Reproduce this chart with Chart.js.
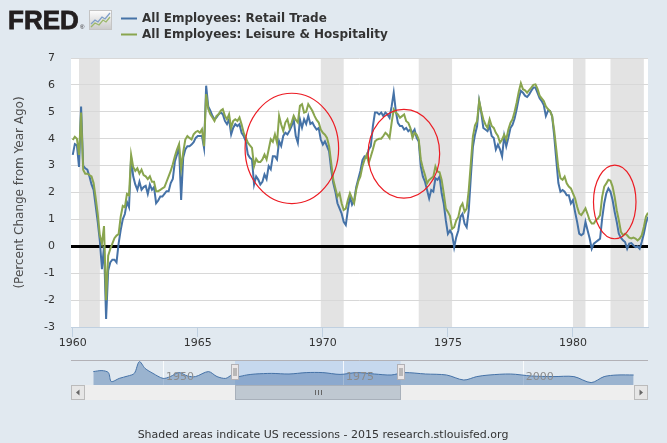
<!DOCTYPE html>
<html>
<head>
<meta charset="utf-8">
<script src="https://cdn.jsdelivr.net/npm/chart.js@4.4.1/dist/chart.umd.min.js"></script>
<style>
  html, body { margin: 0; padding: 0; background: #e1e9f0; }
  #wrap { position: relative; width: 667px; height: 443px; }
  #wrap canvas { position: absolute; left: 0; top: 0; }
</style>
</head>
<body>
<div id="wrap">
  <canvas id="fredChart" width="667" height="443"></canvas>
  <canvas id="navChart" width="667" height="443"></canvas>
</div>
<script>
// monthly values, first one is Jan 1960
const startYear = 1960;

// All Employees: Retail Trade, % change from year ago
const retail = [
  3.4, 3.8, 3.75, 2.95, 5.2, 3.0, 2.9, 2.85, 2.6, 2.3, 2.1, 1.5,          // 1960
  0.9, 0.2, -0.85, 0.0, -2.7, -0.9, -0.6, -0.5, -0.5, -0.6, 0.1, 0.6,     // 1961
  1.0, 1.2, 1.65, 1.45, 3.3, 2.6, 2.3, 2.1, 2.4, 2.1, 2.2, 2.25,          // 1962
  1.95, 2.3, 2.1, 2.2, 1.6, 1.7, 1.85, 1.85, 1.95, 2.05, 2.05, 2.35,      // 1963
  2.5, 3.15, 3.4, 3.7, 1.72, 3.3, 3.6, 3.72, 3.72, 3.78, 3.87, 4.03,      // 1964
  4.1, 4.1, 4.1, 3.66, 5.97, 5.2, 5.04, 4.85, 4.72, 4.79, 4.91, 4.97,     // 1965
  4.91, 4.66, 4.54, 4.72, 4.16, 4.41, 4.54, 4.47, 4.54, 4.22, 4.1, 3.91,  // 1966
  3.42, 3.29, 3.23, 2.3, 2.6, 2.48, 2.3, 2.4, 2.67, 2.5, 2.98, 2.86,      // 1967
  3.35, 3.35, 3.23, 3.91, 3.73, 4.1, 4.22, 4.16, 4.29, 4.47, 4.72, 4.1,   // 1968
  3.85, 4.72, 4.41, 4.72, 4.55, 4.85, 4.55, 4.6, 4.45, 4.34, 4.4, 3.97,   // 1969
  3.78, 3.9, 3.72, 3.53, 2.85, 2.35, 2.03, 1.6, 1.41, 1.22, 0.91, 0.79,   // 1970
  1.35, 1.85, 1.55, 1.7, 2.2, 2.5, 2.8, 3.2, 3.34, 3.3, 3.6, 3.72,        // 1971
  4.47, 4.97, 4.97, 4.9, 4.97, 4.84, 4.97, 4.9, 4.78, 5.2, 5.71, 5.03,    // 1972
  4.59, 4.47, 4.47, 4.34, 4.4, 4.28, 4.34, 4.22, 4.34, 4.03, 3.9, 2.97,   // 1973
  2.59, 2.4, 2.09, 1.78, 2.09, 2.03, 2.53, 2.47, 2.59, 1.97, 1.59, 0.96,  // 1974
  0.46, 0.59, 0.45, -0.04, 0.34, 0.59, 1.09, 1.21, 0.84, 0.71, 1.34, 2.59, // 1975
  3.7, 4.15, 4.47, 5.4, 4.97, 4.4, 4.34, 4.28, 4.47, 4.1, 4.03, 3.6,      // 1976
  3.78, 3.6, 3.34, 4.1, 3.72, 4.03, 4.4, 4.52, 4.75, 5.1, 5.5, 5.78,      // 1977
  5.71, 5.6, 5.55, 5.65, 5.78, 5.9, 5.9, 5.7, 5.5, 5.4, 5.25, 4.84,       // 1978
  5.03, 5.03, 4.84, 4.1, 3.2, 2.35, 2.03, 2.09, 2.03, 1.9, 1.9, 1.59,     // 1979
  1.72, 1.28, 0.91, 0.47, 0.41, 0.47, 0.91, 0.6, 0.3, -0.09, 0.1, 0.16,   // 1980
  0.22, 0.28, 1.03, 1.59, 1.97, 2.15, 2.03, 1.72, 1.28, 0.91, 0.47, 0.32, // 1981
  0.22, 0.16, -0.09, 0.1, 0.12, 0.04, -0.03, 0.0, -0.09, 0.16, 0.47, 0.85, // 1982
  1.1                                                                     // 1983
];

// All Employees: Leisure & Hospitality, % change from year ago
const leisure = [
  3.95, 4.07, 4.0, 3.4, 4.97, 2.85, 2.7, 2.7, 2.65, 2.6, 2.35, 1.8,       // 1960
  1.2, 0.4, 0.1, 0.75, -2.0, -0.35, -0.1, 0.1, 0.3, 0.4, 0.45, 1.1,       // 1961
  1.5, 1.45, 1.95, 1.9, 3.4, 2.95, 2.8, 2.9, 2.7, 2.85, 2.65, 2.6,        // 1962
  2.5, 2.6, 2.4, 2.4, 2.05, 2.05, 2.1, 2.15, 2.2, 2.4, 2.6, 2.8,          // 1963
  3.05, 3.35, 3.6, 3.8, 2.9, 3.5, 3.97, 4.1, 4.03, 3.97, 4.16, 4.25,      // 1964
  4.29, 4.22, 4.35, 3.72, 5.66, 5.1, 4.91, 4.79, 4.66, 4.85, 4.91, 5.04,  // 1965
  5.1, 4.85, 4.72, 4.91, 4.41, 4.66, 4.72, 4.66, 4.79, 4.54, 4.22, 4.05,  // 1966
  3.85, 3.75, 3.66, 2.98, 3.25, 3.13, 3.13, 3.23, 3.41, 3.23, 3.6, 3.98,  // 1967
  3.88, 4.16, 3.85, 4.85, 4.53, 4.29, 4.6, 4.72, 4.41, 4.6, 4.85, 4.7,    // 1968
  4.6, 5.22, 5.28, 4.97, 5.0, 5.28, 5.16, 5.03, 4.85, 4.7, 4.6, 4.34,     // 1969
  4.22, 4.15, 4.03, 3.72, 3.1, 2.47, 2.16, 1.85, 1.97, 1.6, 1.35, 1.4,    // 1970
  1.72, 1.97, 1.78, 1.6, 2.1, 2.41, 2.6, 2.97, 3.22, 3.4, 3.1, 3.34,      // 1971
  3.6, 3.9, 3.97, 4.0, 4.0, 4.1, 4.22, 4.15, 4.03, 4.59, 5.09, 4.97,      // 1972
  4.9, 4.78, 4.84, 4.9, 4.65, 4.59, 4.4, 4.03, 4.22, 4.15, 3.97, 3.22,    // 1973
  2.9, 2.65, 2.34, 2.47, 2.53, 2.59, 2.97, 2.78, 2.75, 2.47, 1.97, 1.4,   // 1974
  1.28, 1.12, 0.65, 0.71, 0.96, 1.09, 1.46, 1.59, 1.28, 1.4, 2.09, 3.09,  // 1975
  4.09, 4.5, 4.65, 5.4, 5.03, 4.72, 4.53, 4.4, 4.72, 4.47, 4.4, 4.22,     // 1976
  4.1, 3.85, 3.97, 4.15, 3.97, 4.34, 4.59, 4.72, 5.0, 5.35, 5.75, 6.06,   // 1977
  5.84, 5.8, 5.71, 5.81, 5.9, 6.0, 6.02, 5.85, 5.6, 5.5, 5.4, 5.2,        // 1978
  5.1, 5.03, 4.84, 4.3, 3.6, 2.9, 2.53, 2.47, 2.59, 2.34, 2.22, 2.15,     // 1979
  1.97, 1.78, 1.47, 1.22, 1.16, 1.28, 1.41, 1.2, 0.97, 0.85, 0.85, 0.97,  // 1980
  1.03, 1.16, 1.84, 2.22, 2.34, 2.47, 2.44, 2.22, 1.84, 1.34, 0.97, 0.54, // 1981
  0.41, 0.47, 0.41, 0.32, 0.29, 0.32, 0.29, 0.22, 0.29, 0.41, 0.72, 1.1,  // 1982
  1.25                                                                    // 1983
];

// NBER recessions (peak month .. trough month) as decimal years
const recessionStart = [1960.25, 1969.917, 1973.833, 1980.0, 1981.5];
const recessionEnd   = [1961.083, 1970.833, 1975.167, 1980.5, 1982.833];

const xTickYears = [1960, 1965, 1970, 1975, 1980];

// red hand-drawn highlight ellipses (centre and half sizes in data units)
const circleYear = [1968.76, 1973.24, 1981.67];
const circleValue = [3.64, 3.44, 1.65];
const circleHalfYears = [1.87, 1.43, 0.85];
const circleHalfValues = [2.05, 1.65, 1.37];

// navigator strip underneath (long-run series overview)
const navYears = [1940.3, 1941.5, 1942.4, 1942.8, 1943.9, 1945.1, 1946.0, 1946.7, 1947.5, 1948.6,
  1950.0, 1951.0, 1952.2, 1953.4, 1954.5, 1956.3, 1957.5, 1958.7, 1959.6, 1960.4,
  1961.6, 1962.8, 1965.1, 1967.5, 1969.9, 1972.2, 1974.6, 1976.9, 1979.4, 1981.7,
  1983.5, 1986.5, 1989.4, 1991.8, 1993.6, 1995.3, 1998.3, 2001.2, 2004.2, 2007.1,
  2009.5, 2011.3, 2013.1, 2015.4];
const navValues = [4.2, 4.7, 3.7, -0.8, 0.8, 2.0, 3.3, 9.2, 5.8, 3.3,
  0.8, 1.7, 3.7, 2.0, 1.7, 4.2, 1.7, 0.8, 2.5, 1.7,
  2.5, 3.0, 3.3, 3.0, 3.7, 3.7, 2.8, 3.7, 3.0, 2.5,
  3.7, 3.0, 2.5, 0.0, 1.7, 2.5, 3.0, 2.0, 1.7, 1.7,
  -1.3, 1.7, 2.5, 2.5];
const navGridYears = [1950, 1975, 2000];
const navSelection = [1960, 1983];

const BLUE = '#4572a7';
const GREEN = '#89a54e';
const FONT = '"DejaVu Sans", Verdana, sans-serif';

function toPoints(arr) {
  return arr.map((v, i) => ({ x: startYear + i / 12, y: v }));
}

const fredDecor = {
  id: 'fredDecor',
  beforeDraw(chart) {
    const { ctx, chartArea: a, scales: { x } } = chart;
    ctx.save();
    ctx.fillStyle = '#e1e9f0';
    ctx.fillRect(0, 0, chart.width, chart.height);
    ctx.fillStyle = '#ffffff';
    ctx.fillRect(a.left, a.top, a.right - a.left, a.bottom - a.top);
    ctx.fillStyle = '#e3e3e3';
    for (let i = 0; i < recessionStart.length; i++) {
      const x0 = Math.max(a.left, x.getPixelForValue(recessionStart[i]));
      const x1 = Math.min(a.right, x.getPixelForValue(recessionEnd[i]));
      ctx.fillRect(x0, a.top, x1 - x0, a.bottom - a.top);
    }
    ctx.restore();
  },
  afterDatasetsDraw(chart) {
    const { ctx, scales: { x, y } } = chart;
    ctx.save();
    ctx.strokeStyle = '#ec1c24';
    ctx.lineWidth = 1.2;
    for (let i = 0; i < circleYear.length; i++) {
      const cx = x.getPixelForValue(circleYear[i]);
      const cy = y.getPixelForValue(circleValue[i]);
      const rx = x.getPixelForValue(circleYear[i] + circleHalfYears[i]) - cx;
      const ry = cy - y.getPixelForValue(circleValue[i] + circleHalfValues[i]);
      ctx.beginPath();
      ctx.ellipse(cx, cy, rx, ry, 0, 0, Math.PI * 2);
      ctx.stroke();
    }
    ctx.restore();
  },
  afterDraw(chart) {
    const ctx = chart.ctx;
    ctx.save();
    // FRED logo
    ctx.fillStyle = '#231f20';
    ctx.font = 'bold 26px "Liberation Sans", Arial, sans-serif';
    ctx.textBaseline = 'alphabetic';
    ctx.fillText('FRED', 8, 28.5);
    ctx.strokeStyle = '#231f20';
    ctx.lineWidth = 0.8;
    ctx.strokeText('FRED', 8, 28.5);
    ctx.font = '6px "Liberation Sans", Arial, sans-serif';
    ctx.fillText('®', 80, 29);
    // little chart icon
    const g = ctx.createLinearGradient(0, 10, 0, 30);
    g.addColorStop(0, '#ffffff');
    g.addColorStop(1, '#c8c8c8');
    ctx.fillStyle = g;
    ctx.fillRect(89.5, 10.5, 22, 19);
    ctx.strokeStyle = '#c4c4c4';
    ctx.lineWidth = 1;
    ctx.strokeRect(89.5, 10.5, 22, 19);
    ctx.lineWidth = 1.3;
    ctx.strokeStyle = '#7f9fc8';
    ctx.beginPath();
    ctx.moveTo(91, 24); ctx.lineTo(95, 20); ctx.lineTo(98, 22); ctx.lineTo(102, 17); ctx.lineTo(105, 19); ctx.lineTo(110, 13);
    ctx.stroke();
    ctx.strokeStyle = '#9cb86a';
    ctx.beginPath();
    ctx.moveTo(91, 27); ctx.lineTo(95, 23); ctx.lineTo(99, 25); ctx.lineTo(103, 20); ctx.lineTo(106, 22); ctx.lineTo(110, 17);
    ctx.stroke();

    // legend
    const entries = [[BLUE, 'All Employees: Retail Trade', 18.5], [GREEN, 'All Employees: Leisure & Hospitality', 34.5]];
    ctx.font = 'bold 12px ' + FONT;
    ctx.textBaseline = 'middle';
    ctx.textAlign = 'left';
    entries.forEach(([c, t, yy]) => {
      ctx.strokeStyle = c;
      ctx.lineWidth = 2;
      ctx.beginPath();
      ctx.moveTo(121, yy); ctx.lineTo(137, yy);
      ctx.stroke();
      ctx.fillStyle = '#333333';
      ctx.fillText(t, 142, yy);
    });

    // footer
    ctx.font = '11px ' + FONT;
    ctx.fillStyle = '#333333';
    ctx.textAlign = 'center';
    ctx.fillText('Shaded areas indicate US recessions - 2015 research.stlouisfed.org', 323, 435);
    ctx.restore();
  }
};

const fredChart = new Chart(document.getElementById('fredChart'), {
  type: 'line',
  data: {
    datasets: [{
      label: 'All Employees: Leisure & Hospitality',
      data: toPoints(leisure),
      borderColor: GREEN,
      borderWidth: 2,
      pointRadius: 0,
      tension: 0,
      order: 0
    }, {
      label: 'All Employees: Retail Trade',
      data: toPoints(retail),
      borderColor: BLUE,
      borderWidth: 2,
      pointRadius: 0,
      tension: 0,
      order: 1
    }]
  },
  options: {
    responsive: false,
    animation: false,
    events: [],
    layout: { padding: { left: 0, right: 19, top: 58, bottom: 86 } },
    plugins: { legend: { display: false }, tooltip: { enabled: false } },
    scales: {
      x: {
        type: 'linear',
        min: 1959.93,
        max: 1983.0,
        afterBuildTicks: s => { s.ticks = xTickYears.map(v => ({ value: v })); },
        afterFit: s => { s.height = 30; },
        grid: { drawOnChartArea: false, drawTicks: true, tickLength: 10, color: '#c0d0e0' },
        border: { display: true, color: '#c0d0e0' },
        ticks: {
          callback: v => String(v),
          maxRotation: 0,
          padding: 0,
          color: '#333333',
          font: { family: FONT, size: 11 }
        }
      },
      y: {
        min: -3,
        max: 7,
        afterFit: s => { s.width = 71; },
        grid: {
          drawTicks: false,
          color: c => (c.tick && c.tick.value === 0) ? '#000000' : '#d8d8d8',
          lineWidth: c => (c.tick && c.tick.value === 0) ? 3 : 1
        },
        border: { display: false },
        ticks: {
          stepSize: 1,
          padding: 16,
          color: '#333333',
          font: { family: FONT, size: 11 }
        },
        title: {
          display: true,
          text: '(Percent Change from Year Ago)',
          color: '#4d4d4d',
          font: { family: FONT, size: 12 },
          padding: { top: 13, bottom: 0 }
        }
      }
    }
  },
  plugins: [fredDecor]
});

const navDecor = {
  id: 'navDecor',
  beforeDatasetsDraw(chart) {
    const { ctx, chartArea: a, scales: { x } } = chart;
    ctx.save();
    const m0 = x.getPixelForValue(navSelection[0]);
    const m1 = x.getPixelForValue(navSelection[1]);
    ctx.fillStyle = '#c6d8ee';
    ctx.fillRect(m0, a.top, m1 - m0, a.bottom - a.top);
    ctx.strokeStyle = 'rgba(255,255,255,0.8)';
    ctx.lineWidth = 1;
    navGridYears.forEach(yr => {
      const px = Math.round(x.getPixelForValue(yr)) + 0.5;
      ctx.beginPath();
      ctx.moveTo(px, a.top); ctx.lineTo(px, a.bottom);
      ctx.stroke();
    });
    ctx.restore();
  },
  afterDraw(chart) {
    const { ctx, chartArea: a, scales: { x } } = chart;
    ctx.save();
    // axis labels inside the strip
    ctx.font = '11px ' + FONT;
    ctx.fillStyle = '#8c8c8c';
    ctx.textBaseline = 'middle';
    ctx.textAlign = 'left';
    navGridYears.forEach(yr => {
      ctx.fillText(String(yr), x.getPixelForValue(yr) + 3, a.top + 17);
    });
    // outline
    ctx.strokeStyle = '#b2b1b6';
    ctx.lineWidth = 1;
    ctx.beginPath();
    ctx.moveTo(a.left, a.top + 0.5); ctx.lineTo(a.right, a.top + 0.5);
    ctx.stroke();

    const m0 = x.getPixelForValue(navSelection[0]);
    const m1 = x.getPixelForValue(navSelection[1]);
    // handles
    [m0, m1].forEach(hx => {
      const l = Math.round(hx) - 3.5;
      ctx.fillStyle = '#ebe7e8';
      ctx.fillRect(l, a.top + 4.5, 7, 15);
      ctx.strokeStyle = '#b2b1b6';
      ctx.strokeRect(l, a.top + 4.5, 7, 15);
      ctx.strokeStyle = '#888888';
      ctx.beginPath();
      ctx.moveTo(l + 2.5, a.top + 8); ctx.lineTo(l + 2.5, a.top + 16);
      ctx.moveTo(l + 4.5, a.top + 8); ctx.lineTo(l + 4.5, a.top + 16);
      ctx.stroke();
    });

    // scrollbar
    const sy = a.bottom, sh = 15;
    ctx.fillStyle = '#eeeeee';
    ctx.fillRect(a.left, sy, a.right - a.left, sh);
    ctx.fillStyle = '#bfc8d1';
    ctx.fillRect(m0, sy, m1 - m0, sh);
    ctx.strokeStyle = '#a8b0ba';
    ctx.strokeRect(Math.round(m0) + 0.5, sy + 0.5, Math.round(m1 - m0), sh - 1);
    ctx.strokeStyle = '#666666';
    const mid = Math.round((m0 + m1) / 2) + 0.5;
    ctx.beginPath();
    [-3, 0, 3].forEach(d => { ctx.moveTo(mid + d, sy + 5); ctx.lineTo(mid + d, sy + 10); });
    ctx.stroke();
    [[a.left, -1], [a.right - 14, 1]].forEach(([bx, dir]) => {
      ctx.fillStyle = '#e6e6e6';
      ctx.fillRect(bx, sy, 14, sh);
      ctx.strokeStyle = '#bbbbbb';
      ctx.strokeRect(bx + 0.5, sy + 0.5, 13, sh - 1);
      ctx.fillStyle = '#666666';
      const cx = bx + 7, cy = sy + 7.5;
      ctx.beginPath();
      ctx.moveTo(cx + 2 * dir, cy);
      ctx.lineTo(cx - 1.5 * dir, cy - 3);
      ctx.lineTo(cx - 1.5 * dir, cy + 3);
      ctx.closePath();
      ctx.fill();
    });
    ctx.restore();
  }
};

const navChart = new Chart(document.getElementById('navChart'), {
  type: 'line',
  data: {
    datasets: [{
      data: navYears.map((yr, i) => ({ x: yr, y: navValues[i] })),
      borderColor: BLUE,
      borderWidth: 1,
      backgroundColor: 'rgba(69,114,167,0.45)',
      fill: 'start',
      pointRadius: 0,
      tension: 0.3
    }]
  },
  options: {
    responsive: false,
    animation: false,
    events: [],
    layout: { padding: { left: 71, right: 19, top: 360, bottom: 58 } },
    plugins: { legend: { display: false }, tooltip: { enabled: false } },
    scales: {
      x: { type: 'linear', display: false, min: 1937.2, max: 2017.4 },
      y: { display: false, min: -2.5, max: 10 }
    }
  },
  plugins: [navDecor]
});
</script>
</body>
</html>
